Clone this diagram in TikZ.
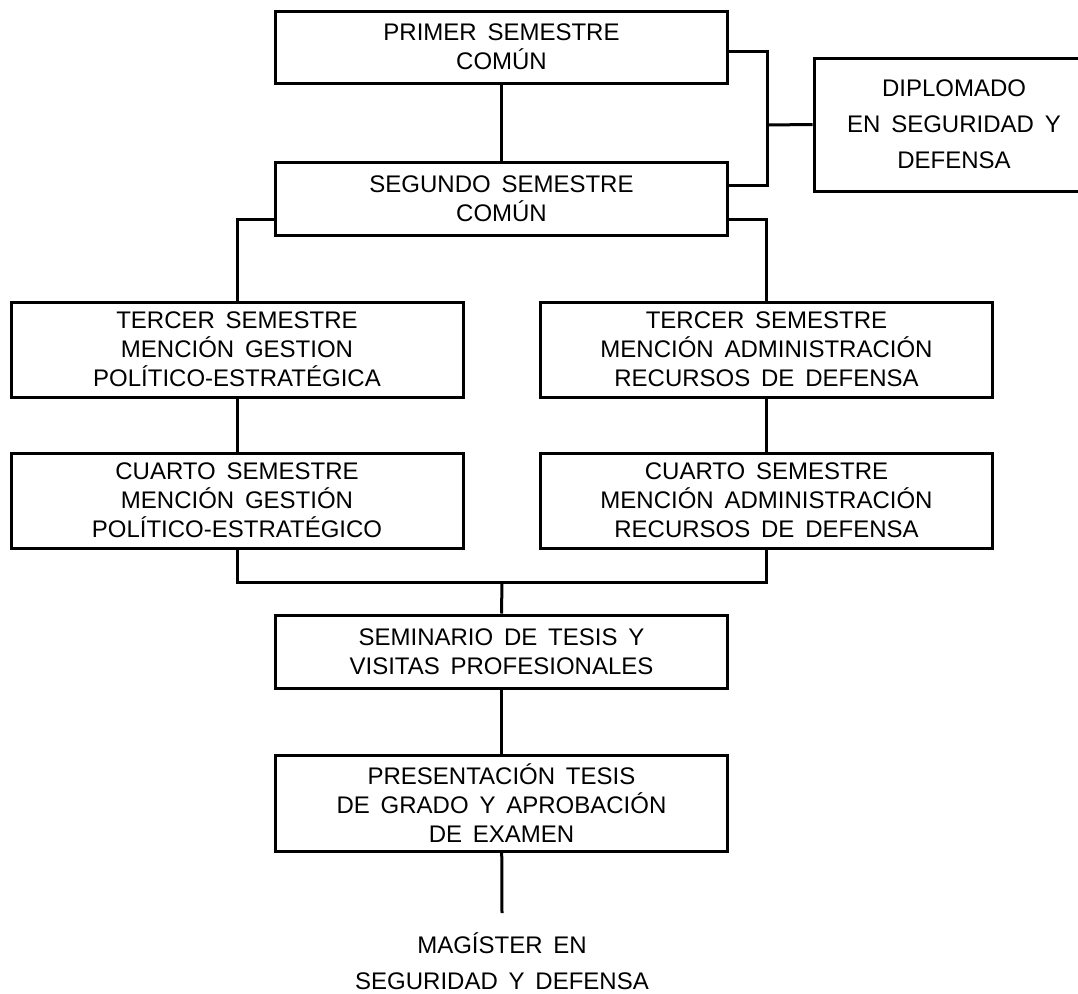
\documentclass[tikz,border=0pt]{standalone}
\usepackage{fontspec}
\setmainfont{Liberation Sans}
\usetikzlibrary{calc}
\newcommand{\letra}{\fontsize{24}{29}\selectfont\spaceskip 0.45em\relax}
\newcommand{\letraalta}{\fontsize{24}{36}\selectfont\spaceskip 0.45em\relax}
\tikzstyle{bloque}=[rectangle,draw=black,line width=3pt,minimum width=452pt,inner sep=0pt,align=center,font=\letra]
\tikzstyle{enlace}=[line width=3pt]
\begin{document}
\begin{tikzpicture}[x=1pt,y=-1pt]

  \clip (0,0) rectangle (1078,993);

   \foreach \x/\y/\h/\name/\texto in {
      501.5/47/72/prim/{PRIMER SEMESTRE\\COMÚN},
      501.5/198.5/73/seg/{SEGUNDO SEMESTRE\\COMÚN},
      237/349.5/95/terA/{TERCER SEMESTRE\\MENCIÓN GESTION\\POLÍTICO-ESTRATÉGICA},
      766.5/349.5/95/terB/{TERCER SEMESTRE\\MENCIÓN ADMINISTRACIÓN\\RECURSOS DE DEFENSA},
      237/500.5/95/cuaA/{CUARTO SEMESTRE\\MENCIÓN GESTIÓN\\POLÍTICO-ESTRATÉGICO},
      766.5/500.5/95/cuaB/{CUARTO SEMESTRE\\MENCIÓN ADMINISTRACIÓN\\RECURSOS DE DEFENSA},
      501.5/651.5/73/sem/{SEMINARIO DE TESIS Y\\VISITAS PROFESIONALES},
      501.5/803/96/pres/{PRESENTACIÓN TESIS\\DE GRADO Y APROBACIÓN\\DE EXAMEN}}
          \node[bloque,minimum height=\h*1pt] (\name) at (\x,\y) {\texto};

  \node[bloque,minimum width=280pt,minimum height=133pt,font=\letraalta] (dipl) at (954,124.5) {DIPLOMADO\\EN SEGURIDAD Y\\DEFENSA};
  \node[align=center,inner sep=0pt,font=\letraalta] (mag) at (502,961) {MAGÍSTER EN\\SEGURIDAD Y DEFENSA};

  % conexiones
  \coordinate (bus) at (767,125);
  \coordinate (union) at (502,582);
  \coordinate (fin) at (502,913);

  \draw[enlace] (prim) -- (seg);
  \draw[enlace] ([yshift=-4pt]prim.east) -| (bus) |- ([yshift=13.5pt]seg.east);
  \draw[enlace] (bus) -- (dipl.west);
  \draw[enlace] ([yshift=-20.5pt]seg.west) -| (terA.north);
  \draw[enlace] ([yshift=-20.5pt]seg.east) -| (terB.north);
  \draw[enlace] (terA) -- (cuaA);
  \draw[enlace] (terB) -- (cuaB);
  \draw[enlace] (cuaA.south) |- (union) -| (cuaB.south);
  \draw[enlace] (union) -- (sem.north);
  \draw[enlace] (sem) -- (pres);
  \draw[enlace] (pres) -- (fin);

\end{tikzpicture}
\end{document}
